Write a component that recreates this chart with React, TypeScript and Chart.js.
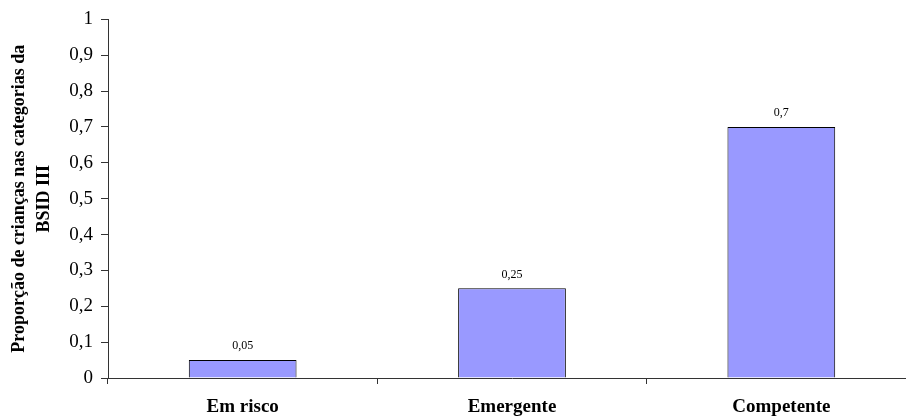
import React, { useEffect, useRef } from "react";
import { Chart, registerables } from "chart.js";

Chart.register(...registerables);

const categories: string[] = ["Em risco", "Emergente", "Competente"];
const proportions: number[] = [0.05, 0.25, 0.7];
const yTickValues: number[] = [0, 0.1, 0.2, 0.3, 0.4, 0.5, 0.6, 0.7, 0.8, 0.9, 1];
const yTitleLines: string[] = ["Proporção de crianças nas categorias da", "BSID III"];

const SERIF = "'Liberation Serif', 'Times New Roman', serif";

const formatComma = (v: number): string => String(v).replace(".", ",");

// Writes each bar's value above it
const valueLabels = {
  id: "valueLabels",
  afterDatasetsDraw(chart: any) {
    const ctx = chart.ctx;
    const meta = chart.getDatasetMeta(0);
    ctx.save();
    ctx.font = `12px ${SERIF}`;
    ctx.fillStyle = "#000";
    ctx.textAlign = "center";
    ctx.textBaseline = "middle";
    meta.data.forEach((bar: any, i: number) => {
      const v = chart.data.datasets[0].data[i] as number;
      ctx.fillText(formatComma(v), bar.x, bar.y - 14);
    });
    ctx.restore();
  },
};

export default function App() {
  const canvasRef = useRef<HTMLCanvasElement | null>(null);

  useEffect(() => {
    if (!canvasRef.current) return;
    const chart = new Chart(canvasRef.current, {
      type: "bar",
      data: {
        labels: categories,
        datasets: [
          {
            data: proportions,
            backgroundColor: "#9999FF",
            borderColor: "#000",
            borderWidth: 1,
            barPercentage: 0.4,
            categoryPercentage: 1,
          },
        ],
      },
      options: {
        animation: false,
        responsive: false,
        layout: { padding: { top: 19, right: 14, bottom: 0, left: 0 } },
        plugins: {
          legend: { display: false },
          tooltip: { enabled: false },
        },
        scales: {
          x: {
            afterFit: (scale: any) => {
              scale.height = 38;
            },
            grid: {
              display: true,
              drawOnChartArea: false,
              drawTicks: true,
              tickLength: 6,
              color: "#333",
              offset: true,
            },
            border: { display: true, color: "#333", width: 1 },
            ticks: {
              color: "#000",
              padding: 12,
              font: { family: SERIF, size: 19, weight: "bold" },
            },
          },
          y: {
            min: 0,
            max: 1,
            afterFit: (scale: any) => {
              scale.width = 108;
            },
            afterBuildTicks: (scale: any) => {
              scale.ticks = yTickValues.map((v) => ({ value: v }));
            },
            grid: {
              display: true,
              drawOnChartArea: false,
              drawTicks: true,
              tickLength: 7,
              color: "#333",
            },
            border: { display: true, color: "#333", width: 1 },
            ticks: {
              color: "#000",
              padding: 8,
              font: { family: SERIF, size: 19 },
              callback: (v: any) => formatComma(Number(v)),
            },
            title: {
              display: true,
              text: yTitleLines,
              color: "#000",
              padding: { top: 7, bottom: 0 },
              font: { family: SERIF, size: 18, weight: "bold", lineHeight: 1.39 },
            },
          },
        },
      },
      plugins: [valueLabels],
    });
    return () => chart.destroy();
  }, []);

  return (
    <div
      style={{
        position: "fixed",
        left: 0,
        top: 0,
        width: 906,
        height: 416,
        overflow: "hidden",
        background: "#fff",
      }}
    >
      <canvas ref={canvasRef} width={930} height={416} style={{ display: "block" }} />
    </div>
  );
}
